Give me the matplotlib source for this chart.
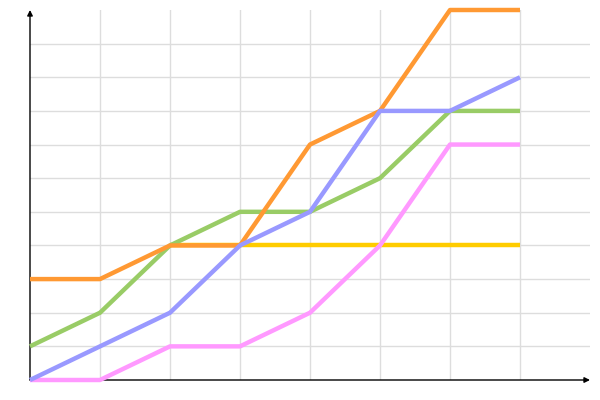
import matplotlib
matplotlib.use("Agg")
import matplotlib.pyplot as plt
import numpy as np

x = [0, 1, 2, 3, 4, 5, 6, 7]
yellow = [np.nan, np.nan, 4, 4, 4, 4, 4, 4]
pink = [0, 0, 1, 1, 2, 4, 7, 7]
green = [1, 2, 4, 5, 5, 6, 8, 8]
blue = [0, 1, 2, 4, 5, 8, 8, 9]
orange = [3, 3, 4, 4, 7, 8, 11, 11]

fig = plt.figure(figsize=(6, 4), dpi=100)
ax = fig.add_axes([30/600, 20/400, 560/600, 370/400])
ax.set_xlim(0, 8)
ax.set_ylim(0, 11)

ax.set_xticks(range(1, 8))
ax.set_yticks(range(1, 11))
ax.grid(True, color="#dddddd", lw=1)
ax.tick_params(length=0, labelbottom=False, labelleft=False)
for s in ax.spines.values():
    s.set_visible(False)
ax.set_axisbelow(True)

ax.annotate("", xy=(1, 0), xytext=(0, 0), xycoords="axes fraction",
            arrowprops=dict(arrowstyle="-|>", color="black", lw=1, mutation_scale=8,
                            shrinkA=0, shrinkB=0), zorder=1)
ax.annotate("", xy=(0, 1), xytext=(0, 0), xycoords="axes fraction",
            arrowprops=dict(arrowstyle="-|>", color="black", lw=1, mutation_scale=8,
                            shrinkA=0, shrinkB=0), zorder=1)

lw = 3.2
ax.plot(x, yellow, color="#ffcc00", lw=lw, solid_capstyle="butt", clip_on=False, zorder=2)
ax.plot(x, pink, color="#ff99ff", lw=lw, solid_capstyle="butt", clip_on=False, zorder=2)
ax.plot(x, green, color="#99cc66", lw=lw, solid_capstyle="butt", clip_on=False, zorder=2)
ax.plot(x, orange, color="#ff9933", lw=lw, solid_capstyle="butt", clip_on=False, zorder=2)
ax.plot(x, blue, color="#9999ff", lw=lw, solid_capstyle="butt", clip_on=False, zorder=2)

fig.savefig("out.png", dpi=100)
